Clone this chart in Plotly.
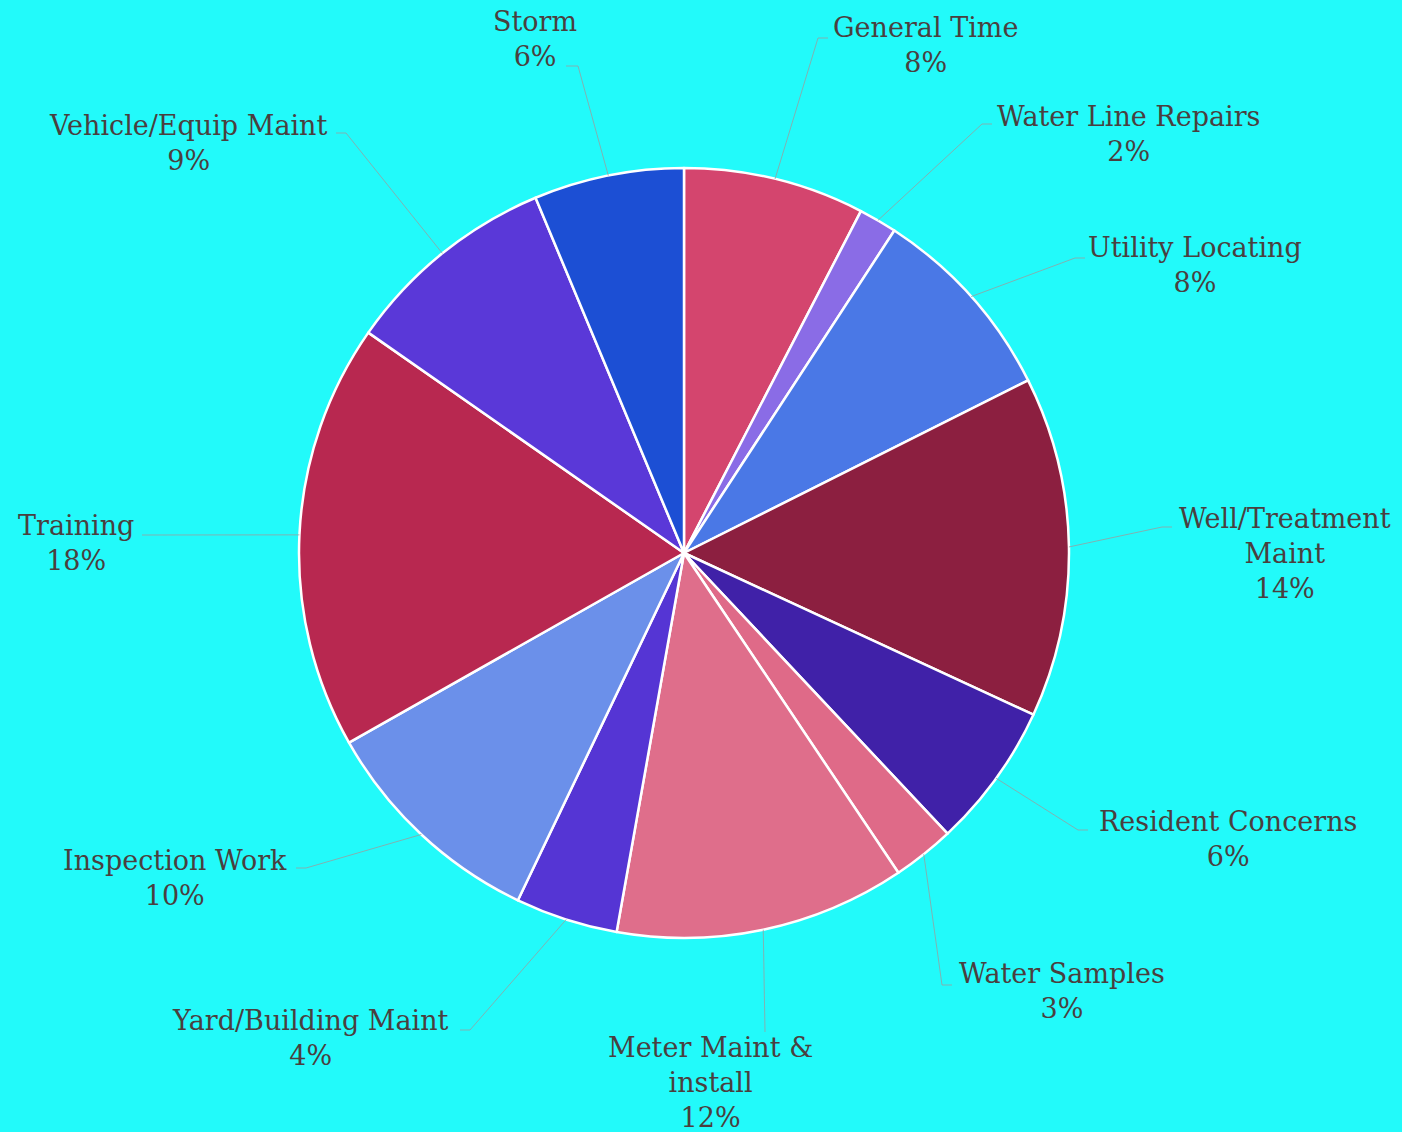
import math
import plotly.graph_objects as go

# ---- data ----
categories = ["General Time", "Water Line Repairs", "Utility Locating", "Well/Treatment<br>Maint",
              "Resident Concerns", "Water Samples", "Meter Maint &<br>install", "Yard/Building Maint",
              "Inspection Work", "Training", "Vehicle/Equip Maint", "Storm"]
values = [7.6, 1.6, 8.4, 14.3, 6.1, 2.6, 12.2, 4.3, 9.7, 17.9, 9.0, 6.3]
colors = ["#d4456e", "#8a6ce6", "#4a78e6", "#8c1f40", "#4021a8", "#df6a88",
          "#df6e8b", "#5535d4", "#6b90ea", "#b82850", "#5a38d8", "#1c4fd4"]

# ---- layout (pixels) ----
W, H = 1402, 1132
CX, CY, R = 684, 553, 385
# label text centres and leader-line attach points
label_pos = [(925, 45), (1128, 134), (1195, 265), (1285, 554), (1228, 839), (1062, 991),
             (710, 1082), (310, 1038), (175, 878), (76, 543), (189, 143), (535, 39)]
attach = [(828, 38), (992, 124), (1085, 258), (1172, 527), (1088, 830), (952, 985),
          (765, 1032), (460, 1030), (296, 868), (142, 535), (336, 133), (566, 66)]
elbow_dx = [-10, -10, -10, -10, -10, -10, 0, 10, 10, 0, 10, 12]

def px(x):
    return x / W

def py(y):
    return 1 - y / H

fig = go.Figure(go.Pie(
    labels=categories, values=values, sort=False, direction="clockwise", rotation=0,
    marker=dict(colors=colors, line=dict(color="white", width=2.5)),
    textinfo="none", hoverinfo="label+percent", showlegend=False,
    domain=dict(x=[px(CX - R), px(CX + R)], y=[py(CY + R), py(CY - R)]),
))

total = sum(values)
cum = 0
annotations = []
shapes = []
for i, (lab, v) in enumerate(zip(categories, values)):
    mid = (cum + v / 2) / total * 2 * math.pi
    cum += v
    ex = CX + R * math.sin(mid)
    ey = CY - R * math.cos(mid)
    ax, ay = attach[i]
    bx = ax + elbow_dx[i]
    path = f"M {px(ex)} {py(ey)} L {px(bx)} {py(ay)} L {px(ax)} {py(ay)}"
    shapes.append(dict(type="path", xref="paper", yref="paper", path=path,
                       line=dict(color="rgba(150,160,160,0.8)", width=1)))
    pct = round(v / total * 100)
    tx, ty = label_pos[i]
    annotations.append(dict(x=px(tx), y=py(ty), xref="paper", yref="paper",
                            text=f"{lab}<br>{pct}%", showarrow=False,
                            xanchor="center", yanchor="middle", align="center",
                            font=dict(family="DejaVu Serif", size=27, color="#4a3f3f")))

fig.update_layout(
    width=W, height=H,
    paper_bgcolor="#22fafa", plot_bgcolor="#22fafa",
    margin=dict(l=0, r=0, t=0, b=0),
    annotations=annotations, shapes=shapes,
)

fig.write_html("out.html", config={"displayModeBar": False},
               post_script="document.body.style.margin='0';document.body.style.background='#22fafa';document.body.style.overflow='hidden';")
